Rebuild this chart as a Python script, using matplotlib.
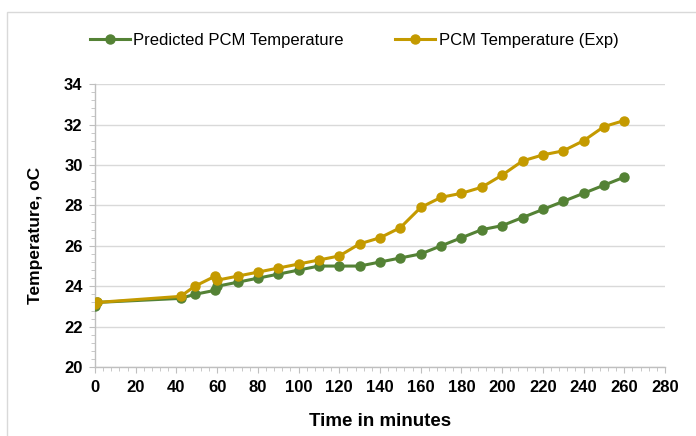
import matplotlib
matplotlib.use("Agg")
import matplotlib.pyplot as plt
from matplotlib.patches import Rectangle
from matplotlib.ticker import MultipleLocator

plt.rcParams['font.family'] = ['Liberation Sans', 'DejaVu Sans']

# time in minutes
time_pred = [0, 1, 42, 49, 59, 60, 70, 80, 90, 100, 110, 120, 130, 140, 150,
             160, 170, 180, 190, 200, 210, 220, 230, 240, 250, 260]
temp_pred = [23.0, 23.2, 23.4, 23.6, 23.8, 24.0, 24.2, 24.4, 24.6, 24.8, 25.0,
             25.0, 25.0, 25.2, 25.4, 25.6, 26.0, 26.4, 26.8, 27.0, 27.4, 27.8,
             28.2, 28.6, 29.0, 29.4]

time_exp = [0, 1, 42, 49, 59, 60, 70, 80, 90, 100, 110, 120, 130, 140, 150,
            160, 170, 180, 190, 200, 210, 220, 230, 240, 250, 260]
temp_exp = [23.1, 23.2, 23.5, 24.0, 24.5, 24.3, 24.5, 24.7, 24.9, 25.1, 25.3,
            25.5, 26.1, 26.4, 26.9, 27.9, 28.4, 28.6, 28.9, 29.5, 30.2, 30.5,
            30.7, 31.2, 31.9, 32.2]

green = '#548235'
gold = '#C49A00'
grid_grey = '#D9D9D9'

fig = plt.figure(figsize=(6.96, 4.36), dpi=100)
ax = fig.add_axes([0.1365, 0.158, 0.819, 0.649])

# chart area border
fig.patches.append(Rectangle((0.010, -0.01), 1.0, 0.983, transform=fig.transFigure,
                             fill=False, edgecolor='#D9D9D9', linewidth=1.0))

ax.plot(time_pred, temp_pred, color=green, marker='o', markersize=6.5,
        linewidth=2.2, label='Predicted PCM Temperature', zorder=3)
ax.plot(time_exp, temp_exp, color=gold, marker='o', markersize=6.5,
        linewidth=2.2, label='PCM Temperature (Exp)', zorder=4)

ax.set_xlim(0, 280)
ax.set_ylim(20, 34)
ax.xaxis.set_major_locator(MultipleLocator(20))
ax.xaxis.set_minor_locator(MultipleLocator(4))
ax.yaxis.set_major_locator(MultipleLocator(2))
ax.yaxis.set_minor_locator(MultipleLocator(0.4))

ax.grid(axis='y', which='major', color=grid_grey, linewidth=1.0, zorder=0)
ax.set_axisbelow(True)
for side in ['top', 'right']:
    ax.spines[side].set_visible(False)
for side in ['left', 'bottom']:
    ax.spines[side].set_color('#BFBFBF')
    ax.spines[side].set_linewidth(1.0)

ax.tick_params(which='major', length=4, color='#BFBFBF', labelsize=12,
               pad=5)
ax.tick_params(which='minor', length=3, color='#BFBFBF')
for lab in ax.get_xticklabels() + ax.get_yticklabels():
    lab.set_fontweight('bold')

ax.set_xlabel('Time in minutes', fontsize=13.5, fontweight='bold', labelpad=13)
ax.set_ylabel('Temperature, oC', fontsize=12.5, fontweight='bold')
ax.yaxis.set_label_coords(-0.091, 0.466)

fig.legend(loc='center', bbox_to_anchor=(0.509, 0.908), ncol=2, frameon=False,
           fontsize=12, handlelength=2.4, columnspacing=3.1, handletextpad=0.2)

fig.savefig('out.png', dpi=100)
